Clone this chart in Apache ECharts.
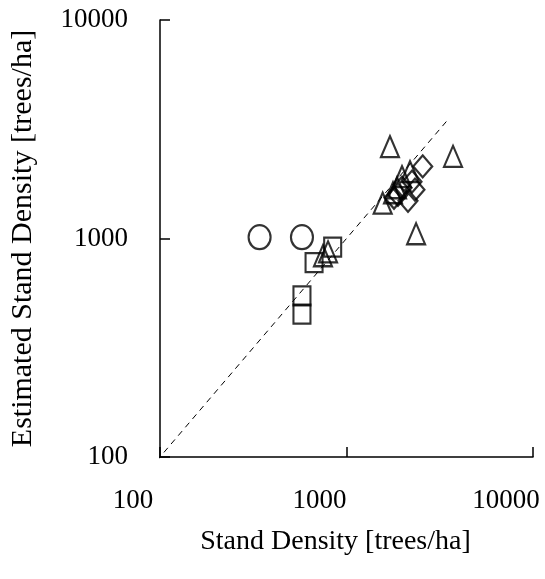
<!DOCTYPE html>
<html>
<head>
<meta charset="utf-8">
<script src="https://cdn.jsdelivr.net/npm/echarts@6/dist/echarts.min.js"></script>
<style>
html,body{margin:0;padding:0;background:#fff;}
#chart{width:545px;height:579px;}
</style>
</head>
<body>
<div id="chart"></div>
<script>
// Data (stand density vs estimated stand density, trees/ha)
var circlesX = [342, 577];
var circlesY = [1014, 1014];
var squaresX = [843, 670, 577, 577];
var squaresY = [913, 776, 546, 451];
var trianglesX = [748, 796, 1710, 3725, 2361, 1563, 1866, 1984, 2190, 1776];
var trianglesY = [834, 869, 2634, 2377, 1051, 1452, 1708, 1919, 2023, 1620];
var diamondsX = [2562, 2328, 2137, 2245, 1888, 1984, 1798];
var diamondsY = [2138, 1673, 1489, 1820, 1586, 1708, 1537];
var oneToOne = [88, 3500];
var tickValues = [100, 1000, 10000];

function pairs(xs, ys) { return xs.map(function (x, i) { return [x, ys[i]]; }); }

var FONT = 'Liberation Serif';
var chart = echarts.init(document.getElementById('chart'), null, {renderer: 'canvas'});

function markerSeries(name, sym, size, xs, ys) {
  return {
    name: name, type: 'scatter', symbol: sym, symbolSize: size,
    data: pairs(xs, ys),
    itemStyle: {color: 'rgba(0,0,0,0)', borderColor: '#000', borderWidth: 2.2},
    emphasis: {disabled: true}, z: 3
  };
}

chart.setOption({
  animation: false,
  backgroundColor: '#fff',
  grid: {left: 160, right: 12, top: 20, bottom: 122, containLabel: false},
  xAxis: {
    type: 'log', logBase: 10, min: tickValues[0], max: tickValues[2],
    name: 'Stand Density [trees/ha]', nameLocation: 'middle', nameGap: 71,
    nameTextStyle: {fontFamily: FONT, fontSize: 28, color: '#000', padding: [0, 22, 0, 0]},
    axisLine: {lineStyle: {color: '#000', width: 1.5}},
    axisTick: {inside: true, length: 10, lineStyle: {color: '#000', width: 1.5}},
    minorTick: {show: false},
    splitLine: {show: false},
    axisLabel: {
      margin: 30, color: '#000', fontFamily: FONT, fontSize: 27,
      formatter: function (v) { return '{a|' + Math.round(v) + '}'; },
      rich: {a: {fontFamily: FONT, fontSize: 27, color: '#000', padding: [0, 54, 0, 0]}}
    }
  },
  yAxis: {
    type: 'log', logBase: 10, min: tickValues[0], max: tickValues[2],
    name: 'Estimated Stand Density [trees/ha]', nameLocation: 'middle', nameGap: 122,
    nameTextStyle: {fontFamily: FONT, fontSize: 30, color: '#000'},
    axisLine: {lineStyle: {color: '#000', width: 1.5}},
    axisTick: {inside: true, length: 10, lineStyle: {color: '#000', width: 1.5}},
    minorTick: {show: false},
    splitLine: {show: false},
    axisLabel: {
      margin: 32, color: '#000', fontFamily: FONT, fontSize: 27,
      formatter: function (v) { return String(Math.round(v)); }
    }
  },
  series: [
    {
      type: 'line', data: [[oneToOne[0], oneToOne[0]], [oneToOne[1], oneToOne[1]]],
      symbol: 'none', clip: false, silent: true, z: 2,
      lineStyle: {color: '#000', width: 1, type: [6, 5]}
    },
    markerSeries('circle', 'circle', [22, 24], circlesX, circlesY),
    markerSeries('square', 'rect', [17, 19], squaresX, squaresY),
    markerSeries('triangle', 'triangle', [18, 21], trianglesX, trianglesY),
    markerSeries('diamond', 'diamond', [19, 22], diamondsX, diamondsY)
  ]
});
</script>
</body>
</html>
